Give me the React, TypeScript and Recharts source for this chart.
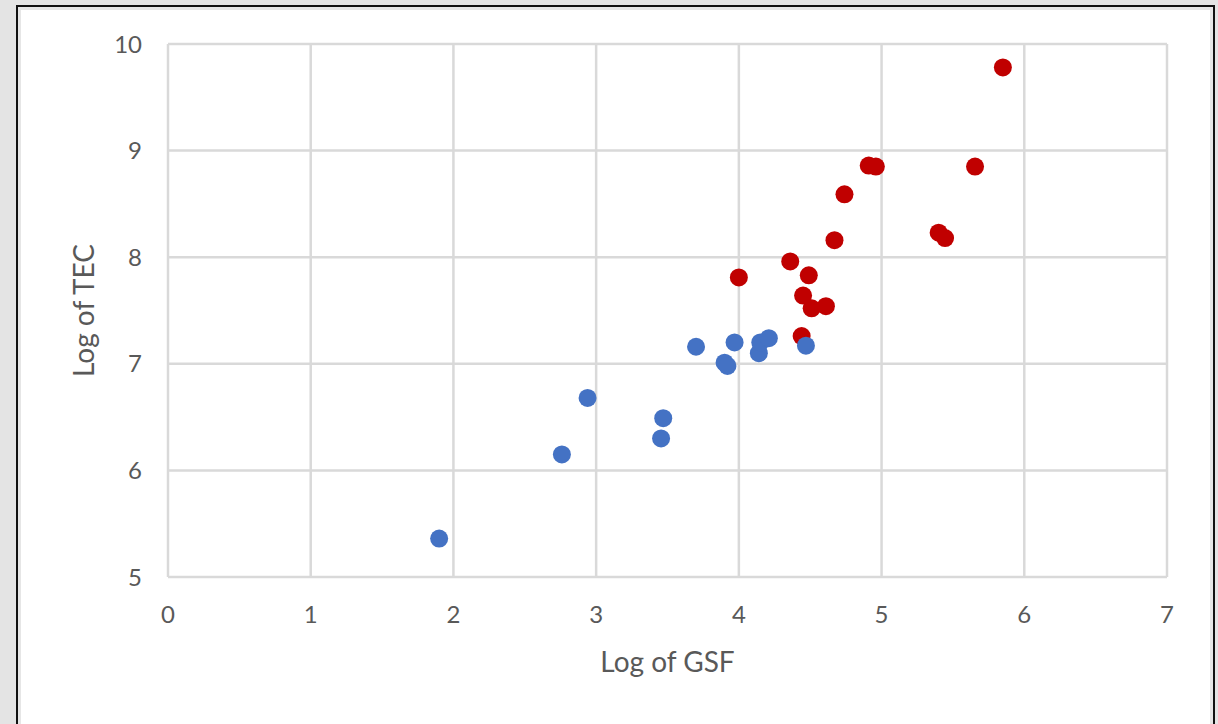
import { CartesianGrid, Scatter, ScatterChart, XAxis, YAxis } from "recharts";

// blue group (smaller buildings)
const blueGsf = [1.9, 2.76, 2.94, 3.455, 3.47, 3.7, 3.9, 3.92, 3.97, 4.14, 4.15, 4.21, 4.47];
const blueTec = [5.36, 6.15, 6.68, 6.3, 6.49, 7.16, 7.01, 6.98, 7.2, 7.1, 7.2, 7.24, 7.17];

// red group (larger buildings)
const redGsf = [4.0, 4.36, 4.49, 4.45, 4.51, 4.61, 4.44, 4.67, 4.74, 4.91, 4.96, 5.655, 5.4, 5.445, 5.85];
const redTec = [7.81, 7.96, 7.83, 7.64, 7.52, 7.54, 7.26, 8.16, 8.59, 8.86, 8.85, 8.85, 8.23, 8.18, 9.78];

const xTicks = [0, 1, 2, 3, 4, 5, 6, 7];
const yTicks = [5, 6, 7, 8, 9, 10];

const toPoints = (xs: number[], ys: number[]) => xs.map((x, i) => ({ x, y: ys[i] }));

const blueData = toPoints(blueGsf, blueTec);
const redData = toPoints(redGsf, redTec);

const FONT = "Lato, 'Open Sans', sans-serif";
const TEXT = "#595959";
const GRID = "#d9d9d9";

const dot = (color: string) => (props: any) =>
  <circle cx={props.cx} cy={props.cy} r={9} fill={color} />;

export default function App() {
  return (
    <div style={{ position: "absolute", left: 0, top: 0, width: 1218, height: 724, background: "#e4e4e4", overflow: "hidden" }}>
      <div
        style={{
          position: "absolute",
          left: 16,
          top: 5,
          width: 1195,
          height: 725,
          borderLeft: "2px solid #111",
          borderTop: "2px solid #111",
          borderRight: "2px solid #111",
          background: "#fff",
          boxShadow: "inset 3px 3px 0 #e6e6e6, inset -3px -3px 0 #e6e6e6",
        }}
      />
      <div style={{ position: "absolute", left: 0, top: 0 }}>
        <ScatterChart width={1218} height={724} margin={{ top: 44, right: 51, left: 0, bottom: 0 }}>
          <CartesianGrid stroke={GRID} strokeWidth={2.5} />
          <XAxis
            type="number"
            dataKey="x"
            domain={[0, 7]}
            ticks={xTicks}
            height={147}
            axisLine={false}
            tickLine={false}
            tickSize={0}
            tickMargin={29}
            tick={{ fill: TEXT, fontSize: 24, fontFamily: FONT }}
            label={{ value: "Log of GSF", position: "insideTop", offset: 75, fill: TEXT, fontSize: 28, fontFamily: FONT }}
          />
          <YAxis
            type="number"
            dataKey="y"
            domain={[5, 10]}
            ticks={yTicks}
            width={168}
            axisLine={false}
            tickLine={false}
            tickSize={0}
            tickMargin={26}
            tick={{ fill: TEXT, fontSize: 24, fontFamily: FONT }}
            label={{ value: "Log of TEC", position: "center", angle: -90, fill: TEXT, fontSize: 28, fontFamily: FONT }}
          />
          <Scatter data={redData} fill="#c00000" shape={dot("#c00000")} isAnimationActive={false} />
          <Scatter data={blueData} fill="#4472c4" shape={dot("#4472c4")} isAnimationActive={false} />
        </ScatterChart>
      </div>
    </div>
  );
}
